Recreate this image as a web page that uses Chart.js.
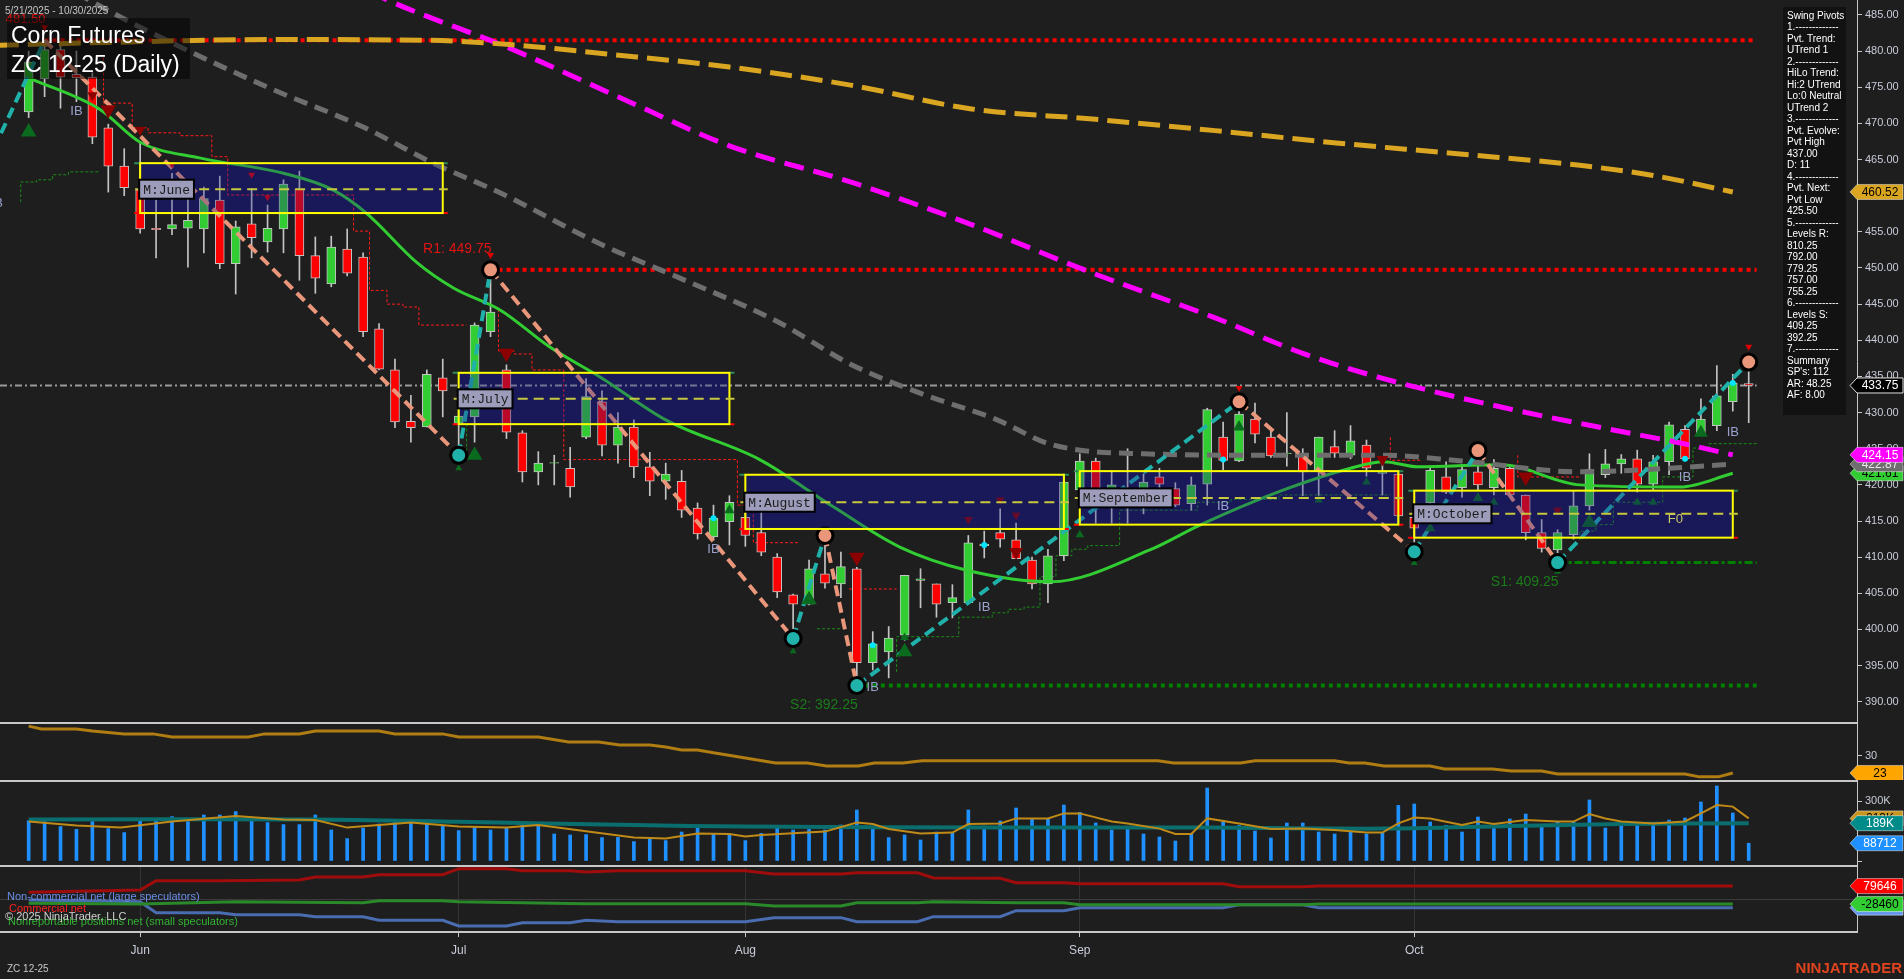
<!DOCTYPE html>
<html>
<head>
<meta charset="utf-8">
<title>Corn Futures ZC 12-25 (Daily)</title>
<script src="https://cdn.jsdelivr.net/npm/chart.js@4.4.1/dist/chart.umd.min.js"></script>
<style>
  html, body { margin: 0; padding: 0; background: #1e1e1e; overflow: hidden; }
  #wrap { position: relative; width: 1904px; height: 979px; background: #1e1e1e; }
  #wrap canvas { position: absolute; left: 0; }
</style>
</head>
<body>
<div id="wrap">
  <canvas id="cPrice" width="1904" height="722" style="top:0px"></canvas>
  <canvas id="cAdx" width="1904" height="58" style="top:722px"></canvas>
  <canvas id="cVol" width="1904" height="85" style="top:780px"></canvas>
  <canvas id="cCot" width="1904" height="114" style="top:865px"></canvas>
</div>
<script>
// ---------------- daily bars, 5/21/2025 - 10/30/2025 (bar index 0..108) ----------------
const opens = [
  471.6, 476.2, 480.2, 476.8, 476.4, 469.4, 464.1, 460.8, 455.5, 455.4,
  455.5, 455.4, 459.4, 450.6, 456.1, 453.6, 455.4, 460.9, 451.7, 447.8,
  452.6, 451.5, 441.6, 435.9, 428.8, 428.0, 434.8, 428.5, 429.4, 441.2,
  435.9, 427.2, 421.8, 423.0, 422.3, 426.6, 431.5, 425.5, 428.0, 422.5,
  420.5, 420.5, 416.8, 412.8, 414.9, 415.5, 413.4, 410.0, 404.8, 403.5,
  407.7, 406.3, 408.4, 395.4, 396.9, 399.2, 406.8, 406.3, 403.7, 403.7,
  411.6, 413.4, 412.4, 409.6, 406.3, 410.2, 419.3, 423.3, 418.9, 419.0,
  417.5, 421.1, 419.5, 417.4, 420.1, 426.6, 423.3, 429.1, 426.6, 424.3,
  424.1, 421.9, 425.3, 424.1, 425.5, 421.6, 421.5, 415.5, 417.5, 421.1,
  419.6, 421.8, 419.6, 422.3, 418.6, 413.4, 411.0, 413.1, 417.1, 421.4,
  422.9, 423.6, 420.1, 423.2, 427.7, 427.2, 428.2, 431.5, 434.0
];
const highs = [
  480.0, 481.5, 481.0, 480.0, 477.0, 469.9, 466.5, 467.4, 459.4, 463.1,
  461.9, 461.2, 462.7, 456.5, 461.0, 458.7, 462.2, 463.4, 454.3, 454.4,
  455.4, 452.1, 442.3, 437.4, 432.4, 435.9, 437.4, 432.3, 442.4, 449.75,
  436.6, 427.5, 424.6, 424.1, 425.2, 434.7, 433.0, 430.0, 429.0, 424.5,
  423.0, 422.0, 417.5, 417.2, 418.5, 417.0, 416.3, 410.5, 404.9, 409.6,
  413.0, 410.7, 408.6, 399.7, 400.4, 407.5, 408.4, 406.3, 406.2, 413.0,
  413.6, 416.7, 414.7, 410.0, 411.1, 421.5, 424.3, 423.7, 422.0, 425.0,
  421.5, 422.3, 420.3, 421.1, 430.6, 428.7, 431.5, 431.3, 427.5, 430.0,
  425.0, 426.6, 427.5, 428.2, 426.2, 423.0, 421.5, 417.0, 422.5, 423.2,
  422.8, 424.75, 423.5, 422.8, 418.6, 415.2, 413.8, 419.2, 424.3, 424.9,
  424.2, 424.8, 424.1, 428.7, 428.2, 431.9, 436.5, 435.3, 437.0
];
const lows = [
  470.8, 473.7, 472.1, 473.0, 467.2, 460.5, 460.0, 454.8, 451.4, 454.6,
  450.1, 452.1, 449.9, 446.4, 451.4, 452.2, 452.1, 448.3, 446.5, 447.4,
  448.9, 440.5, 435.9, 427.9, 425.9, 428.0, 429.4, 424.1, 425.9, 440.5,
  426.4, 420.4, 420.0, 420.0, 418.3, 426.4, 424.0, 423.0, 421.0, 418.5,
  418.0, 415.5, 412.5, 412.4, 411.7, 411.5, 410.2, 404.4, 398.75, 403.4,
  405.7, 404.4, 392.25, 394.4, 393.3, 398.5, 403.0, 401.7, 401.6, 403.5,
  409.9, 411.4, 409.8, 405.6, 403.7, 409.5, 417.0, 414.7, 414.7, 414.7,
  416.0, 419.2, 417.0, 416.5, 417.2, 422.1, 423.2, 425.8, 423.8, 422.6,
  418.5, 418.5, 423.8, 423.6, 421.2, 418.6, 414.7, 410.75, 414.3, 418.8,
  418.3, 419.2, 418.6, 418.3, 412.4, 410.7, 409.25, 412.5, 416.5, 421.0,
  421.6, 419.0, 419.2, 421.4, 423.3, 426.9, 427.5, 430.2, 428.6
];
const closes = [
  478.5, 480.2, 476.4, 476.3, 468.1, 464.1, 461.1, 455.4, 455.3, 456.0,
  456.6, 459.6, 450.6, 455.7, 454.2, 455.5, 461.6, 451.7, 448.6, 452.9,
  449.3, 441.2, 436.0, 428.7, 427.9, 435.3, 433.0, 429.5, 442.1, 443.9,
  427.3, 421.8, 423.0, 423.1, 419.7, 432.2, 425.5, 428.0, 422.5, 420.5,
  421.5, 416.5, 413.2, 415.4, 417.6, 413.0, 410.7, 405.2, 403.5, 408.4,
  406.4, 408.7, 395.4, 398.0, 398.8, 407.5, 407.0, 403.5, 404.4, 412.0,
  411.8, 412.5, 409.8, 406.3, 410.2, 420.4, 423.3, 417.5, 420.0, 419.1,
  420.4, 420.1, 417.2, 420.0, 430.4, 423.4, 429.8, 427.0, 424.0, 424.4,
  421.8, 426.6, 424.4, 426.1, 422.3, 421.8, 415.7, 414.0, 422.0, 419.0,
  422.1, 420.0, 422.3, 418.6, 413.4, 411.2, 413.4, 417.1, 422.1, 422.9,
  423.6, 420.1, 423.2, 428.3, 423.6, 429.1, 432.3, 434.1, 433.75
];
const volumes = [
  201000, 197000, 172000, 158000, 197000, 162000, 142000, 212000, 210000, 222000,
  197000, 230000, 230000, 247000, 205000, 192000, 182000, 182000, 230000, 155000,
  112000, 165000, 185000, 195000, 205000, 188000, 175000, 152000, 168000, 155000,
  168000, 197000, 178000, 135000, 130000, 132000, 117000, 118000, 97000, 115000,
  102000, 145000, 172000, 138000, 135000, 102000, 138000, 167000, 155000, 158000,
  155000, 180000, 255000, 172000, 117000, 130000, 105000, 145000, 142000, 255000,
  175000, 200000, 265000, 208000, 213000, 280000, 243000, 190000, 155000, 163000,
  135000, 120000, 100000, 137000, 365000, 195000, 178000, 150000, 115000, 190000,
  190000, 145000, 135000, 147000, 135000, 143000, 278000, 285000, 195000, 178000,
  145000, 220000, 172000, 210000, 235000, 180000, 195000, 195000, 305000, 165000,
  180000, 180000, 188000, 205000, 215000, 295000, 375000, 240000, 88712
];

// month ticks on the time axis (bar index of the first session of each month)
const monthTicks = [7, 27, 45, 66, 87];
const monthNames = ['Jun', 'Jul', 'Aug', 'Sep', 'Oct'];
const priceTicks = [390, 395, 400, 405, 410, 415, 420, 425, 430, 435, 440, 445, 450, 455, 460, 465, 470, 475, 480, 485];

// moving averages (bar index, value)
const orangeMaIdx = [-2, 5, 15, 25, 30.2, 36.3, 44, 51.6, 59.2, 66.8, 74.5, 82.1, 89.7, 97.4, 102, 107];
const orangeMaVal = [480.8, 481.2, 481.6, 481.5, 480.9, 479.6, 477.8, 475.3, 472.0, 470.6, 469.0, 467.3, 465.8, 464.2, 462.8, 460.52];
const magentaMaIdx = [18, 22.6, 30.2, 37.9, 44, 51.6, 59.2, 66.8, 74.5, 80, 84.9, 93.2, 99.5, 103.7, 107];
const magentaMaVal = [492, 487.0, 480.4, 472.8, 466.9, 461.9, 456.0, 449.3, 443.1, 438.2, 434.8, 430.4, 427.6, 425.8, 424.15];
const greyMaIdx = [3, 7, 15, 21, 25.4, 29.6, 36, 41, 47, 51.6, 56.2, 60.7, 64.2, 70, 78, 84.9, 90, 97.4, 103, 107];
const greyMaVal = [488, 483.3, 475.0, 469.5, 464.5, 460.4, 453.2, 448.5, 442.6, 436.7, 432.5, 429.1, 425.6, 424.3, 424.1, 424.1, 423.3, 421.8, 422.3, 422.87];
const greenMaIdx = [0, 4.5, 7, 10.8, 16, 19.1, 21.2, 24.4, 26.7, 29.6, 32.7, 35.9, 40, 45.9, 50.5, 54.7, 58.9, 64.2, 70.4, 73.6, 78.8, 83, 85.1, 87.2, 92.4, 97.4, 103.7, 107];
const greenMaVal = [476.3, 471.9, 467.4, 465.2, 463.1, 460.8, 457.6, 450.7, 447.2, 444.2, 439.1, 434.9, 429.0, 423.5, 417.0, 411.4, 408.2, 406.6, 411.0, 414.5, 419.3, 422.3, 423.2, 422.5, 422.8, 420.0, 419.7, 421.61];

// swing pivots (bar index, price)
const swingIdx = [-4, 1, 27, 29, 48, 50, 52, 76, 87, 91, 96, 108];
const swingPx  = [458, 481.5, 424.1, 449.75, 398.75, 413, 392.25, 431.5, 410.75, 424.75, 409.25, 437];

// trailing stops (step lines)
const redStopA_x = [4.7, 6.5, 7.5, 9.5, 11.5, 12.5, 20.4, 21.4, 22.5, 23.5, 24.5, 26.5, 27.5];
const redStopA_y = [479.1, 472.8, 469.4, 468.7, 468.3, 465.4, 460.1, 455.1, 446.9, 445.0, 444.6, 442.1, 442.1];
const redStopB_x = [29.5, 30.5, 31.6, 33.6, 44.5, 45.5, 46.5, 48.4];
const redStopB_y = [444.3, 438.5, 438.1, 435.9, 423.5, 417.2, 412.0, 412.0];
const redStopC_x = [51.5, 54.5];
const redStopC_y = [405.6, 405.6];
const redStopD_x = [85.5, 86.5, 87.5];
const redStopD_y = [426.6, 423.4, 423.4];
const redStopE_x = [93.5, 94.5, 97.4];
const redStopE_y = [424.1, 421.1, 421.1];
const greenStopA_x = [-0.5, 0.5, 1.5, 2.5, 3.4, 4.5];
const greenStopA_y = [459.1, 461.9, 462.2, 462.9, 463.3, 463.3];
const greenStopB_x = [27.5, 28.4, 29.5];
const greenStopB_y = [424.6, 430.8, 430.8];
const greenStopC_x = [49.5, 51];
const greenStopC_y = [400.1, 400.1];
const greenStopD_x = [54.5, 58.4, 60.5, 61.5, 62.5, 63.5, 64.5, 65.5, 66.5, 68.5, 73.4, 75.5, 78.5, 83.6, 85.5];
const greenStopD_y = [394.1, 399.0, 401.7, 402.3, 402.8, 403.1, 407.3, 410.2, 411.1, 411.6, 416.5, 417.6, 418.0, 418.6, 418.6];
const greenStopE_x = [97.4, 98.4, 99.5, 102.6, 104.5, 105.5, 107.5, 108.6];
const greenStopE_y = [412.4, 413.6, 414.5, 417.6, 421.1, 425.1, 425.7, 425.7];

// monthly ranges
const boxStart  = [7, 27, 45, 66, 87];
const boxEnd    = [26, 44, 65, 86, 107];
const boxTop    = [464.5, 435.5, 421.4, 421.9, 419.2];
const boxBottom = [457.6, 428.4, 413.9, 414.5, 412.7];
const boxMid    = [460.9, 431.9, 417.6, 418.2, 416.0];
const boxNames  = ['M:June', 'M:July', 'M:August', 'M:September', 'M:October'];

// support / resistance levels
const levelPx    = [481.5, 449.75, 392.25, 409.25];
const levelFrom  = [1, 29, 52, 96];
const levelTags  = ['481.50', 'R1: 449.75', 'S2: 392.25', 'S1: 409.25'];
const lastPrice = 433.75;

// signal markers
const upTriIdx  = [0, 27, 28, 44, 48, 49, 55, 55, 66, 76, 81, 84, 87, 88, 91, 92, 96, 98, 101, 102, 105];
const upTriPx   = [468.8, 422.3, 424.1, 416.5, 397.0, 404.1, 398.9, 396.9, 413.1, 428.0, 417.9, 420.4, 409.2, 414.0, 418.2, 417.6, 408.0, 414.8, 417.6, 417.6, 427.2];
const upTriSize = [9, 4, 9, 6, 4, 9, 5, 9, 5, 7, 5, 5, 4, 6, 6, 5, 4, 9, 5, 5, 8];
const dnTriIdx  = [1, 4, 5, 7, 9, 14, 15, 29, 30, 52, 59, 61, 62, 62, 76, 85, 94, 96, 108];
const dnTriPx   = [483.3, 473.9, 471.9, 469.1, 464.3, 462.9, 459.8, 451.8, 438.2, 410.0, 415.2, 417.9, 415.8, 410.7, 433.4, 423.5, 421.1, 416.5, 439.1];
const dnTriSize = [4, 6, 9, 6, 4, 4, 4, 4, 9, 9, 5, 5, 5, 8, 4, 7, 9, 5, 4];
const dotIdx = [43, 53, 60, 75, 104, 107];
const dotPx  = [415.4, 397.8, 411.7, 423.5, 423.6, 434.1];
const ibIdx = [-2, 3, 43, 53, 60, 75, 104, 107];
const ibPx  = [458.9, 471.7, 411.1, 392.0, 403.1, 417.0, 421.0, 427.2];

// swing pivot summary
const pivotPanelLines = [
  'Swing Pivots', '1.-------------', 'Pvt. Trend:', 'UTrend 1', '2.-------------', 'HiLo Trend:',
  'Hi:2 UTrend', 'Lo:0 Neutral', 'UTrend 2', '3.-------------', 'Pvt. Evolve:', 'Pvt High',
  '437.00', 'D: 11', '4.-------------', 'Pvt. Next:', 'Pvt Low', '425.50', '5.-------------',
  'Levels R:', '810.25', '792.00', '779.25', '757.00', '755.25', '6.-------------', 'Levels S:',
  '409.25', '392.25', '7.-------------', 'Summary', "SP's: 112", 'AR: 48.25', 'AF: 8.00'
];

// trend strength panel
const adxIdx = [0, 0.8, 3, 4, 6, 7.8, 9, 13.8, 14.8, 17, 18, 22, 23, 26, 27, 32, 33.9, 35.8, 37.1, 39, 40, 41, 42, 43, 45, 46.9, 48.9, 50.1, 52.1, 53.1, 54.9, 56.1, 61, 70.9, 71.9, 76.1, 77, 82, 82.9, 83.9, 85.1, 88, 88.9, 91.9, 93.1, 95, 96, 104, 104.9, 106.1, 107];
const adxVal = [42.3, 41.1, 41.1, 40.3, 39.1, 39.1, 37.8, 37.8, 39.1, 39.1, 40.3, 40.3, 39.1, 39.1, 37.8, 37.8, 35.8, 35.8, 34.5, 34.5, 33.7, 32.5, 32.5, 31.3, 29.2, 27.1, 27.1, 25.9, 25.9, 27.1, 27.1, 28.0, 28.0, 28.0, 27.1, 27.1, 28.0, 28.0, 27.1, 27.1, 25.9, 25.9, 24.6, 24.6, 23.8, 23.8, 22.6, 22.6, 21.4, 21.4, 23];

// volume averages
const volFastIdx = [0, 3, 5.8, 9, 13, 16, 18, 20, 24, 27, 30, 32, 38, 40, 42, 44, 45, 46, 50, 52, 53, 54, 56, 58, 59, 61, 62, 64, 65, 66, 68, 69, 71, 72, 73, 74, 76, 78, 80, 82, 84, 85, 86, 87, 88, 90, 91, 92, 94, 96, 97, 98, 99, 100, 102, 104, 105, 106, 107, 108];
const volFastVal = [197000, 177000, 167000, 197000, 225000, 208000, 205000, 167000, 192000, 172000, 167000, 180000, 118000, 112000, 138000, 135000, 122000, 130000, 147000, 192000, 185000, 160000, 138000, 142000, 185000, 188000, 213000, 213000, 238000, 238000, 198000, 188000, 162000, 135000, 135000, 213000, 188000, 160000, 162000, 155000, 142000, 142000, 188000, 217000, 213000, 180000, 197000, 185000, 205000, 197000, 197000, 235000, 213000, 198000, 188000, 198000, 238000, 280000, 272000, 213000];
const volSlowIdx = [0, 18, 27, 38, 45, 61, 74, 85, 93, 100, 108];
const volSlowVal = [208000, 208000, 196000, 180000, 172000, 168000, 167000, 162000, 175000, 185000, 189000];

// COT net positions
const commIdx = [0, 7, 8, 12, 17, 18, 21, 22, 26, 27, 30, 31, 34, 35, 37, 45, 46.8, 51, 52, 55.8, 56.8, 61, 62, 65, 66, 75, 76, 80, 81, 107];
const commVal = [42000, 56000, 112000, 112000, 116000, 134000, 134000, 148000, 148000, 184000, 184000, 172000, 172000, 164000, 172000, 172000, 152000, 152000, 160000, 160000, 128000, 126000, 100000, 100000, 94000, 94000, 76000, 76000, 79646, 79646];
const smallIdx = [0, 7, 13, 21, 22, 26, 27, 31, 35, 45, 46.8, 51, 52, 55.8, 56.8, 62, 65, 66, 80, 81, 107];
const smallVal = [-24000, -28000, -14000, -20000, -8000, -8000, -14000, -20000, -26000, -26000, -40000, -40000, -20000, -20000, -14000, -20000, -20000, -32000, -32000, -28460, -28460];
const largeIdx = [0, 7, 8, 12, 13, 17, 18, 21, 22, 26, 27, 30, 31, 34, 35, 37, 45, 46.8, 51, 52, 55.8, 56.8, 61, 62, 65, 66, 75, 76, 80, 81, 107];
const largeVal = [-4000, -14000, -80000, -80000, -92000, -92000, -104000, -104000, -126000, -126000, -160000, -160000, -140000, -140000, -126000, -134000, -134000, -110000, -110000, -134000, -134000, -104000, -104000, -68000, -68000, -50000, -50000, -32000, -32000, -50000, -50000];

// ---------------- drawing ----------------
const FONT = '"Liberation Sans", Arial, sans-serif';
Chart.defaults.font.family = FONT;
Chart.defaults.color = '#c8ccd8';

const X_MIN = -1.8, X_MAX = 114.8, AXIS_W = 47, PLOT_R = 1857;
const UP = '#32cd32', DOWN = '#ff0000';
const pts = (xs, ys) => xs.map((x, k) => ({ x, y: ys[k] }));
const bars = opens.map((_, i) => i);

function hiddenX() {
  return { type: 'linear', min: X_MIN, max: X_MAX, offset: false, display: false };
}
function rightY(min, max, tickVals, labelFn, extra) {
  return Object.assign({
    type: 'linear', position: 'right', min, max, beginAtZero: false,
    afterFit(s) { s.width = AXIS_W; s.paddingTop = 0; s.paddingBottom = 0; },
    afterBuildTicks(s) { s.ticks = tickVals.map(v => ({ value: v })); },
    ticks: { color: '#c8ccd8', font: { size: 11 }, padding: 3, autoSkip: false, callback: labelFn },
    grid: { drawOnChartArea: false, drawTicks: true, tickLength: 5, tickColor: '#c8c8c8', color: '#c8c8c8' },
    border: { display: true, color: '#c8c8c8', width: 1 }
  }, extra || {});
}
function baseOptions(scales) {
  return {
    responsive: false, animation: false, devicePixelRatio: 1, events: [],
    layout: { padding: 0, autoPadding: false },
    plugins: { legend: { display: false }, tooltip: { enabled: false } },
    scales
  };
}
function stepLine(xs, ys, color) {
  return { type: 'line', data: pts(xs, ys), borderColor: color, borderWidth: 1, borderDash: [3, 2],
           stepped: 'after', pointRadius: 0, fill: false, order: 30 };
}
function maLine(xs, ys, color, width, dash, order) {
  return { type: 'line', data: pts(xs, ys), borderColor: color, borderWidth: width, borderDash: dash,
           pointRadius: 0, tension: 0.35, cubicInterpolationMode: 'monotone', fill: false, order };
}
function drawFlag(ctx, y, text, fill, txt, stroke) {
  const x0 = 1850, x1 = 1857, x2 = 1903, h = 7.5;
  ctx.save();
  ctx.beginPath();
  ctx.moveTo(x0, y); ctx.lineTo(x1, y - h); ctx.lineTo(x2, y - h); ctx.lineTo(x2, y + h); ctx.lineTo(x1, y + h);
  ctx.closePath();
  ctx.fillStyle = fill; ctx.fill();
  ctx.strokeStyle = stroke || 'rgba(255,255,255,0.45)'; ctx.lineWidth = 1; ctx.stroke();
  ctx.fillStyle = txt; ctx.font = '12px ' + FONT; ctx.textAlign = 'center'; ctx.textBaseline = 'middle';
  ctx.fillText(text, 1880, y + 0.5);
  ctx.restore();
}
function separator(ctx) {
  ctx.save(); ctx.fillStyle = '#c8c8c8'; ctx.fillRect(0, 0, PLOT_R, 2); ctx.restore();
}
const kFmt = v => Math.round(v / 1000) + 'K';

// ---------- price panel ----------
const pricePlugin = {
  id: 'priceDecor',
  beforeDatasetsDraw(chart) {
    const { ctx, chartArea: a, scales: { x, y } } = chart;
    ctx.save();
    ctx.beginPath(); ctx.rect(a.left, a.top, a.right - a.left, a.bottom - a.top); ctx.clip();
    // monthly range fills
    ctx.fillStyle = '#181845';
    boxStart.forEach((s, k) => {
      const l = x.getPixelForValue(s), r = x.getPixelForValue(boxEnd[k]);
      const t = y.getPixelForValue(boxTop[k]), b = y.getPixelForValue(boxBottom[k]);
      ctx.fillRect(l, t, r - l, b - t);
    });
    // last price line
    const yl = y.getPixelForValue(lastPrice);
    ctx.strokeStyle = '#9a9a9a'; ctx.lineWidth = 2; ctx.setLineDash([7, 3, 2, 3]);
    ctx.beginPath(); ctx.moveTo(0, yl); ctx.lineTo(x.getPixelForValue(108.5), yl); ctx.stroke();
    // support / resistance levels
    levelPx.forEach((p, k) => {
      const yy = y.getPixelForValue(p);
      const isRes = k < 2;
      ctx.strokeStyle = isRes ? '#ff0000' : '#008000';
      ctx.lineWidth = k === 3 ? 3 : 4;
      ctx.setLineDash(k === 3 ? [8, 3, 3, 3] : [4, 4]);
      ctx.beginPath(); ctx.moveTo(x.getPixelForValue(levelFrom[k]), yy); ctx.lineTo(x.getPixelForValue(108.5), yy); ctx.stroke();
    });
    ctx.restore();
  },
  afterDatasetsDraw(chart) {
    const { ctx, chartArea: a, scales: { x, y } } = chart;
    ctx.save();
    ctx.beginPath(); ctx.rect(a.left, a.top, a.right - a.left, a.bottom - a.top); ctx.clip();
    // monthly ranges: tint, outline, mid line, caption
    boxStart.forEach((s, k) => {
      const l = x.getPixelForValue(s), r = x.getPixelForValue(boxEnd[k]);
      const t = y.getPixelForValue(boxTop[k]), b = y.getPixelForValue(boxBottom[k]);
      const m = y.getPixelForValue(boxMid[k]);
      ctx.fillStyle = 'rgba(30,30,140,0.30)';
      ctx.fillRect(l, t, r - l, b - t);
      ctx.setLineDash([]);
      ctx.lineWidth = 2;
      ctx.strokeStyle = '#2e8b57';
      ctx.beginPath(); ctx.moveTo(l - 6, t); ctx.lineTo(l, t); ctx.moveTo(r, t); ctx.lineTo(r + 5, t); ctx.stroke();
      ctx.strokeStyle = '#ff0000';
      ctx.beginPath(); ctx.moveTo(l - 6, b); ctx.lineTo(l, b); ctx.moveTo(r, b); ctx.lineTo(r + 5, b); ctx.stroke();
      ctx.strokeStyle = '#ffff00';
      ctx.strokeRect(l, t, r - l, b - t);
      ctx.strokeStyle = '#c8c83c'; ctx.setLineDash([10, 6]);
      ctx.beginPath(); ctx.moveTo(l - 5, m); ctx.lineTo(r + 5, m); ctx.stroke();
      ctx.setLineDash([]);
      ctx.font = '13px "Liberation Mono", "Courier New", monospace';
      const w = ctx.measureText(boxNames[k]).width + 8;
      ctx.fillStyle = '#9d9dbb';
      ctx.fillRect(l - 1, m - 9.5, w, 19);
      ctx.strokeStyle = '#000000'; ctx.lineWidth = 2;
      ctx.strokeRect(l - 1, m - 9.5, w, 19);
      ctx.fillStyle = '#1c1c1c'; ctx.textAlign = 'left'; ctx.textBaseline = 'middle';
      ctx.fillText(boxNames[k], l + 3, m + 1);
    });
    // inside-bar tags
    ctx.font = '13px ' + FONT; ctx.fillStyle = '#9aa2cc'; ctx.textAlign = 'center'; ctx.textBaseline = 'middle';
    ibIdx.forEach((i, k) => ctx.fillText('IB', x.getPixelForValue(i), y.getPixelForValue(ibPx[k])));
    ctx.fillStyle = '#c8c864';
    ctx.fillText('F0', x.getPixelForValue(103.4), y.getPixelForValue(415.2));
    // level captions
    ctx.textAlign = 'right';
    levelPx.forEach((p, k) => {
      const yy = y.getPixelForValue(p) + (k < 2 ? -21 : 20);
      ctx.fillStyle = k < 2 ? '#e01414' : '#1a7d1a';
      ctx.font = (k === 0 ? '13px ' : '14px ') + FONT;
      ctx.fillText(levelTags[k], x.getPixelForValue(levelFrom[k]) + 1, yy);
    });
    ctx.restore();
  },
  afterDraw(chart) {
    const { ctx, scales: { y } } = chart;
    ctx.save();
    // title
    ctx.fillStyle = 'rgba(0,0,0,0.5)';
    ctx.fillRect(7, 18, 183, 61);
    ctx.fillStyle = '#ffffff'; ctx.textAlign = 'left'; ctx.textBaseline = 'alphabetic';
    ctx.font = '23px ' + FONT;
    ctx.fillText('Corn Futures', 11, 43);
    ctx.fillText('ZC 12-25 (Daily)', 11, 72);
    ctx.font = '10px ' + FONT; ctx.fillStyle = '#c4c4c4'; ctx.textBaseline = 'middle';
    ctx.fillText('5/21/2025 - 10/30/2025', 5, 11);
    // swing pivot summary
    ctx.fillStyle = '#121212';
    ctx.fillRect(1783, 7, 63, 408);
    ctx.fillStyle = '#ffffff'; ctx.font = '10px ' + FONT;
    pivotPanelLines.forEach((t, k) => ctx.fillText(t, 1787, 16 + k * 11.5));
    ctx.restore();
    // value flags
    const g = greenMaVal[greenMaVal.length - 1], gr = greyMaVal[greyMaVal.length - 1];
    const mg = magentaMaVal[magentaMaVal.length - 1], or = orangeMaVal[orangeMaVal.length - 1];
    drawFlag(ctx, y.getPixelForValue(g), g.toFixed(2), '#32cd32', '#000000');
    drawFlag(ctx, y.getPixelForValue(gr), gr.toFixed(2), '#6e6e6e', '#e8e8e8');
    drawFlag(ctx, y.getPixelForValue(mg), mg.toFixed(2), '#ff00ff', '#ffffff');
    drawFlag(ctx, y.getPixelForValue(lastPrice), lastPrice.toFixed(2), '#000000', '#ffffff', '#e0e0e0');
    drawFlag(ctx, y.getPixelForValue(or), or.toFixed(2), '#daa520', '#000000');
  }
};

const priceChart = new Chart(document.getElementById('cPrice'), {
  type: 'bar',
  data: {
    datasets: [
      // pivots (top layer)
      { type: 'line', showLine: false, order: 1,
        data: pts(swingIdx.slice(2), swingPx.slice(2)),
        pointRadius: 8, pointBorderWidth: 3, pointBorderColor: '#000000',
        pointBackgroundColor: swingPx.slice(2).map((p, k) => {
          const all = swingPx.slice(2); const prev = k > 0 ? all[k - 1] : 481.5;
          return p > prev ? '#e9967a' : '#20b2aa';
        }) },
      { type: 'line', showLine: false, order: 2, data: pts(dotIdx, dotPx),
        pointRadius: 3, pointBorderWidth: 0, pointBackgroundColor: '#00e5ff' },
      { type: 'line', showLine: false, order: 3, data: pts(upTriIdx, upTriPx), pointStyle: 'triangle',
        pointRadius: upTriSize, pointBorderWidth: 0, pointBackgroundColor: '#0a6a1e' },
      { type: 'line', showLine: false, order: 3, data: pts(dnTriIdx, dnTriPx), pointStyle: 'triangle', rotation: 180,
        pointRadius: dnTriSize, pointBorderWidth: 0,
        pointBackgroundColor: dnTriSize.map(s => s === 4 ? '#e00000' : '#8b0000') },
      // swing legs
      { type: 'line', order: 4, data: pts(swingIdx, swingPx), borderWidth: 4, borderDash: [11, 6], pointRadius: 0,
        segment: { borderColor: c => c.p1.parsed.y > c.p0.parsed.y ? '#20b2aa' : '#e9967a' } },
      // averages
      maLine(orangeMaIdx, orangeMaVal, '#daa520', 5, [22, 9], 5),
      maLine(magentaMaIdx, magentaMaVal, '#ff00ff', 5, [20, 10], 6),
      maLine(greyMaIdx, greyMaVal, '#6e6e6e', 5, [14, 8], 7),
      maLine(greenMaIdx, greenMaVal, '#32cd32', 3, [], 8),
      // candles
      { type: 'bar', order: 10, grouped: false, barThickness: 9,
        data: bars.map(i => ({ x: i, y: [opens[i], closes[i]] })),
        backgroundColor: bars.map(i => closes[i] >= opens[i] ? UP : DOWN),
        borderColor: '#c4c4c4', borderWidth: 1, borderSkipped: false },
      { type: 'bar', order: 11, grouped: false, barThickness: 1,
        data: bars.map(i => ({ x: i, y: [lows[i], highs[i]] })), backgroundColor: '#c4c4c4' },
      // trailing stops
      stepLine(redStopA_x, redStopA_y, '#ff1a1a'),
      stepLine(redStopB_x, redStopB_y, '#ff1a1a'),
      stepLine(redStopC_x, redStopC_y, '#ff1a1a'),
      stepLine(redStopD_x, redStopD_y, '#ff1a1a'),
      stepLine(redStopE_x, redStopE_y, '#ff1a1a'),
      stepLine(greenStopA_x, greenStopA_y, '#1a8c1a'),
      stepLine(greenStopB_x, greenStopB_y, '#1a8c1a'),
      stepLine(greenStopC_x, greenStopC_y, '#1a8c1a'),
      stepLine(greenStopD_x, greenStopD_y, '#1a8c1a'),
      stepLine(greenStopE_x, greenStopE_y, '#1a8c1a')
    ]
  },
  options: baseOptions({
    x: hiddenX(),
    y: rightY(387.2, 487.07, priceTicks, v => Number(v).toFixed(2))
  }),
  plugins: [pricePlugin]
});

// ---------- trend strength panel ----------
new Chart(document.getElementById('cAdx'), {
  type: 'line',
  data: { datasets: [
    { data: pts(adxIdx, adxVal), borderColor: '#b07d12', borderWidth: 3, pointRadius: 0, tension: 0 }
  ] },
  options: baseOptions({ x: hiddenX(), y: rightY(20.1, 44, [30], v => String(v)) }),
  plugins: [{
    id: 'adxDecor',
    afterDraw(chart) {
      const { ctx, scales: { y } } = chart;
      separator(ctx);
      const v = adxVal[adxVal.length - 1];
      drawFlag(ctx, y.getPixelForValue(v), String(Math.round(v)), '#ffa500', '#000000');
    }
  }]
});

// ---------- volume panel ----------
new Chart(document.getElementById('cVol'), {
  type: 'bar',
  data: { datasets: [
    { type: 'line', order: 1, data: pts(volFastIdx, volFastVal), borderColor: '#c08a18', borderWidth: 2, pointRadius: 0 },
    { type: 'line', order: 2, data: pts(volSlowIdx, volSlowVal), borderColor: '#0b6e6e', borderWidth: 4, pointRadius: 0, tension: 0.3 },
    { type: 'bar', order: 3, grouped: false, barThickness: 3,
      data: bars.map(i => ({ x: i, y: volumes[i] })), backgroundColor: '#1e90ff' }
  ] },
  options: baseOptions({ x: hiddenX(), y: rightY(-20000, 405000, [0, 300000], v => v === 0 ? '' : kFmt(v)) }),
  plugins: [{
    id: 'volDecor',
    afterDraw(chart) {
      const { ctx, scales: { y } } = chart;
      separator(ctx);
      const f = volFastVal[volFastVal.length - 1], s = volSlowVal[volSlowVal.length - 1], v = volumes[volumes.length - 1];
      drawFlag(ctx, y.getPixelForValue(f), kFmt(f), '#c8961e', '#000000');
      drawFlag(ctx, y.getPixelForValue(s), kFmt(s), '#008b8b', '#ffffff');
      drawFlag(ctx, y.getPixelForValue(v), String(v), '#1e90ff', '#ffffff');
    }
  }]
});

// ---------- COT panel + time axis ----------
new Chart(document.getElementById('cCot'), {
  type: 'line',
  data: { datasets: [
    { data: pts(commIdx, commVal), borderColor: '#a00c0c', borderWidth: 3, pointRadius: 0 },
    { data: pts(smallIdx, smallVal), borderColor: '#2a8a2a', borderWidth: 3, pointRadius: 0 },
    { data: pts(largeIdx, largeVal), borderColor: '#4a6cb0', borderWidth: 3, pointRadius: 0 }
  ] },
  options: baseOptions({
    x: {
      type: 'linear', min: X_MIN, max: X_MAX, offset: false, position: 'bottom',
      afterFit(s) { s.height = 47; s.paddingLeft = 0; s.paddingRight = 0; },
      afterBuildTicks(s) { s.ticks = monthTicks.map(v => ({ value: v })); },
      ticks: { color: '#c8ccd8', font: { size: 12 }, padding: 6, autoSkip: false, maxRotation: 0,
               callback: v => monthNames[monthTicks.indexOf(v)] },
      grid: { drawOnChartArea: true, color: '#343434', lineWidth: 1, drawTicks: true, tickLength: 5, tickColor: '#c8c8c8' },
      border: { display: true, color: '#c8c8c8', width: 2 }
    },
    y: rightY(-196000, 206000, [0], () => '', {
      grid: { drawOnChartArea: true, drawTicks: false, color: '#3c3c3c', lineWidth: 1 }
    })
  }),
  plugins: [{
    id: 'cotDecor',
    afterDraw(chart) {
      const { ctx, scales: { y } } = chart;
      separator(ctx);
      ctx.save();
      ctx.textAlign = 'left'; ctx.textBaseline = 'middle'; ctx.font = '11px ' + FONT;
      ctx.fillStyle = '#6a8ee8'; ctx.fillText('Non-commercial net (large speculators)', 7, 32);
      ctx.fillStyle = '#ff2020'; ctx.fillText('Commercial net', 9, 44);
      ctx.fillStyle = '#32b432'; ctx.fillText('Nonreportable positions net (small speculators)', 8, 57);
      ctx.fillStyle = '#d0d0d0'; ctx.fillText('\u00a9 2025 NinjaTrader, LLC', 5, 52);
      ctx.font = '10px ' + FONT; ctx.fillStyle = '#c8c8c8';
      ctx.fillText('ZC 12-25', 7, 104);
      ctx.font = 'bold 15px ' + FONT; ctx.fillStyle = '#e0441f'; ctx.textAlign = 'right';
      ctx.fillText('NINJATRADER', 1902, 104);
      ctx.restore();
      const lg = largeVal[largeVal.length - 1], c = commVal[commVal.length - 1], s = smallVal[smallVal.length - 1];
      drawFlag(ctx, y.getPixelForValue(lg), String(lg), '#6495ed', '#ffffff');
      drawFlag(ctx, y.getPixelForValue(c), String(c), '#ff0000', '#ffffff');
      drawFlag(ctx, y.getPixelForValue(s), String(s), '#32cd32', '#000000');
    }
  }]
});
</script>
</body>
</html>
